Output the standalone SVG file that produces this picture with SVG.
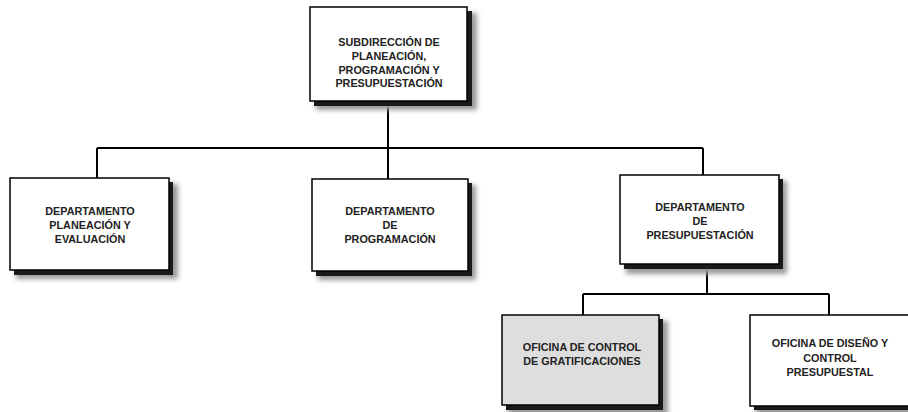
<svg xmlns="http://www.w3.org/2000/svg" width="908" height="412" viewBox="0 0 908 412">
<defs>
<filter id="blur" x="-20%" y="-20%" width="140%" height="140%"><feGaussianBlur stdDeviation="2.5"/></filter>
<style>
.sh2{fill:#999;filter:url(#blur);}
.sh1{fill:#1a1a1a;}
.box{fill:#fff;stroke:#000;stroke-width:1.5;}
.gray{fill:#dedede;}
.t{font-family:"Liberation Sans",Arial,sans-serif;font-weight:bold;font-size:10.8px;fill:#222;text-anchor:middle;}
.c{stroke:#000;stroke-width:2;fill:none;}
</style>
</defs>
<rect width="908" height="412" fill="#fff"/>
<g id="connectors">
<path class="c" d="M388,103 V148 M97,148 H703 M97,148 V178 M388,148 V179 M703,148 V175 M707,268 V294 M583,294 H829 M583,294 V315 M829,294 V315"/>
</g>
<g id="n-sub">
<rect class="sh2" x="316" y="13" width="161" height="97"/>
<rect class="sh1" x="314" y="11" width="158" height="95"/>
<rect class="box" x="310" y="7" width="157" height="94"/>
<text class="t" x="389" y="46">SUBDIRECCIÓN DE</text>
<text class="t" x="389" y="59.5">PLANEACIÓN,</text>
<text class="t" x="389" y="73.5">PROGRAMACIÓN Y</text>
<text class="t" x="389" y="87">PRESUPUESTACIÓN</text>
</g>
<g id="n-plan">
<rect class="sh2" x="16" y="184" width="162" height="95"/>
<rect class="sh1" x="14" y="182" width="159" height="93"/>
<rect class="box" x="10" y="178" width="159" height="92"/>
<text class="t" x="90" y="215">DEPARTAMENTO</text>
<text class="t" x="90" y="229">PLANEACIÓN Y</text>
<text class="t" x="90" y="243">EVALUACIÓN</text>
</g>
<g id="n-prog">
<rect class="sh2" x="318" y="185" width="158" height="95"/>
<rect class="sh1" x="316" y="183" width="156" height="93"/>
<rect class="box" x="312" y="179" width="156" height="92"/>
<text class="t" x="390" y="215">DEPARTAMENTO</text>
<text class="t" x="390" y="229">DE</text>
<text class="t" x="390" y="243">PROGRAMACIÓN</text>
</g>
<g id="n-pres">
<rect class="sh2" x="626" y="181" width="161" height="93"/>
<rect class="sh1" x="624" y="179" width="159" height="90"/>
<rect class="box" x="620" y="175" width="159" height="89"/>
<text class="t" x="700" y="211">DEPARTAMENTO</text>
<text class="t" x="700" y="225">DE</text>
<text class="t" x="700" y="239">PRESUPUESTACIÓN</text>
</g>
<g id="n-grat">
<rect class="sh2" x="508" y="321" width="160" height="95"/>
<rect class="sh1" x="506" y="319" width="157" height="91"/>
<rect class="box gray" x="502" y="315" width="157" height="90"/>
<text class="t" x="582" y="351">OFICINA DE CONTROL</text>
<text class="t" x="582" y="365">DE GRATIFICACIONES</text>
</g>
<g id="n-dis">
<rect class="sh2" x="756" y="321" width="160" height="95"/>
<rect class="sh1" x="754" y="319" width="160" height="91"/>
<rect class="box" x="750" y="315" width="162" height="91"/>
<text class="t" x="830" y="347">OFICINA DE DISEÑO Y</text>
<text class="t" x="830" y="361.5">CONTROL</text>
<text class="t" x="830" y="376">PRESUPUESTAL</text>
</g>
</svg>
